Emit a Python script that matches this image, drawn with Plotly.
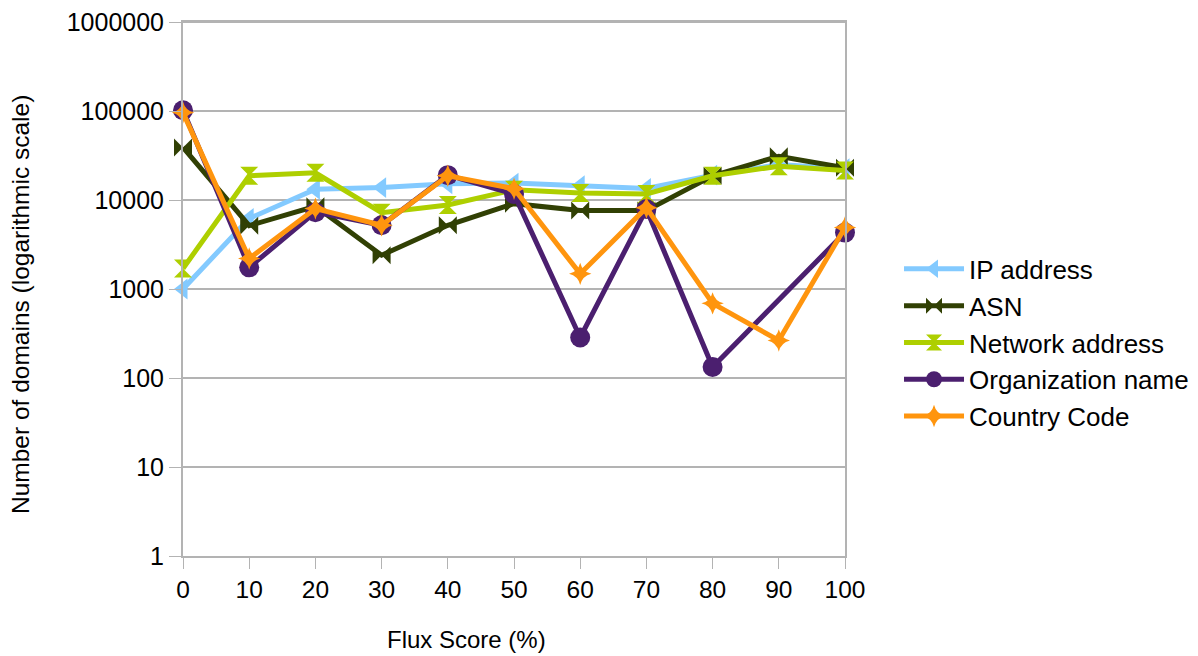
import plotly.graph_objects as go

flux_score = [0, 10, 20, 30, 40, 50, 60, 70, 80, 90, 100]
ip_address = [1000, 6200, 13200, 13800, 15200, 15500, 14500, 13500, 19000, 25000, 22500]
asn = [39000, 5150, 8500, 2400, 5200, 9100, 7600, 7600, 18700, 31000, 23000]
network_address = [1700, 18700, 20200, 7200, 8800, 13000, 12000, 11700, 18700, 24000, 21500]
organization_name = [102000, 1750, 7300, 5200, 19000, 11700, 285, 7900, 133, None, 4300]
country_code = [96000, 2200, 8000, 5200, 18700, 13400, 1480, 8200, 690, 264, 4900]

y_tickvals = [1, 10, 100, 1000, 10000, 100000, 1000000]
y_ticktext = ["1", "10", "100", "1000", "10000", "100000", "1000000"]

series = [
    ("IP address", ip_address, "#83caff", "triangle-left", 18),
    ("ASN", asn, "#314004", "bowtie", 18),
    ("Network address", network_address, "#aecf00", "hourglass", 18),
    ("Organization name", organization_name, "#4b1f6f", "circle", 20),
    ("Country Code", country_code, "#ff950e", "star-diamond", 16),
]

font_family = "Liberation Sans, Arial, sans-serif"

fig = go.Figure()
for i, (name, vals, color, symbol, size) in enumerate(series):
    fig.add_trace(go.Scatter(
        x=flux_score, y=vals, name=name, mode="lines+markers",
        line=dict(color=color, width=5),
        marker=dict(symbol=symbol, size=size, color=color, line=dict(width=0)),
        connectgaps=True, cliponaxis=False, legendgroup=str(i),
    ))

fig.update_layout(
    width=1198, height=656,
    margin=dict(l=175, r=361, t=14, b=108),
    paper_bgcolor="white", plot_bgcolor="white",
    font=dict(family=font_family, size=24, color="black"),
    showlegend=True,
    legend=dict(x=1.0816, y=0.399, xanchor="left", yanchor="middle",
                font=dict(size=26), itemwidth=60, traceorder="grouped",
                tracegroupgap=0, bgcolor="rgba(0,0,0,0)"),
    xaxis=dict(
        range=[0, 100], tickvals=flux_score, ticks="outside", ticklen=11,
        tickcolor="#b3b3b3", showgrid=False, zeroline=False,
        showline=True, linecolor="#b3b3b3", linewidth=2, mirror=True,
        tickfont=dict(size=24.5), automargin=False,
    ),
    yaxis=dict(
        type="log", range=[0, 6], tickvals=y_tickvals, ticktext=y_ticktext,
        ticks="outside", ticklen=12, tickcolor="#b3b3b3",
        showgrid=True, gridcolor="#b3b3b3", gridwidth=2, zeroline=False,
        showline=True, linecolor="#b3b3b3", linewidth=2, mirror=True,
        tickfont=dict(size=25), automargin=False, ticklabeloverflow="allow",
    ),
)

# top border of the plot area
fig.add_shape(type="line", xref="paper", yref="paper", x0=0, x1=1, y0=1, y1=1,
              line=dict(color="#b3b3b3", width=2), layer="below")

fig.add_annotation(text="Flux Score (%)", xref="paper", yref="paper",
                   x=0.4275, y=-0.157, xanchor="center", yanchor="middle",
                   showarrow=False, font=dict(size=24))
fig.add_annotation(text="Number of domains (logarithmic scale)", xref="paper", yref="paper",
                   x=-0.2462, y=0.47, xanchor="center", yanchor="middle", textangle=-90,
                   showarrow=False, font=dict(size=24.5))

fig.write_html("out.html")
